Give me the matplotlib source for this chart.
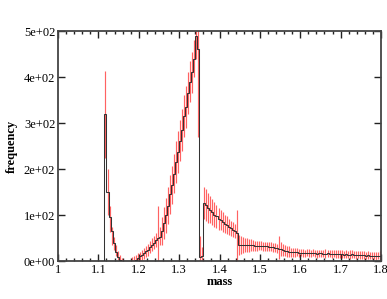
import numpy as np
import matplotlib
matplotlib.use("Agg")
import matplotlib.pyplot as plt
from matplotlib.ticker import MultipleLocator

# histogram bins: width 0.005, starting at 1.100
bin_start = 1.100
bin_width = 0.005

# black histogram (frequency per bin)
black_freq = [
    0, 0, 0, 320, 150, 96, 66, 40, 20, 8,            # 1.100 - 1.145
    3, 0, 0, 0, 0, 0, 0, 0, 2, 6,                    # 1.150 - 1.195
    10, 13, 17, 21, 25, 30, 35, 40, 45, 50,          # 1.200 - 1.245
    52, 65, 83, 100, 120, 145, 165, 190, 215, 237,   # 1.250 - 1.295
    262, 285, 315, 335, 365, 390, 410, 440, 490, 462,  # 1.300 - 1.345
    8, 10, 126, 122, 116, 112, 106, 101, 97, 92,     # 1.350 - 1.395
    89, 85, 81, 78, 74, 71, 68, 65, 62, 35,          # 1.400 - 1.445
    35, 35, 35, 34, 34, 34, 34, 33, 33, 33,          # 1.450 - 1.495
    33, 32, 32, 32, 31, 31, 30, 29, 28, 27,          # 1.500 - 1.545
    26, 24, 22, 21, 20, 19, 19, 19, 19, 18,          # 1.550 - 1.595
    18, 18, 17, 18, 17, 17, 18, 17, 16, 17,          # 1.600 - 1.645
    17, 16, 16, 17, 16, 15, 16, 16, 15, 15,          # 1.650 - 1.695
    15, 14, 15, 14, 14, 15, 14, 13, 14, 13,          # 1.700 - 1.745
    13, 13, 12, 13, 12, 12, 12, 11, 12, 11,          # 1.750 - 1.795
]

# red series: mean and error per bin (nan = no point)
nan = np.nan
red_mean = [
    nan, nan, nan, 318, 150, 92, 55, 38, 22, 12,
    6, 2, nan, nan, nan, nan, 2, 4, 6, 8,
    10, 13, 17, 21, 25, 30, 35, 40, 45, 60,
    55, 65, 83, 100, 120, 145, 165, 190, 215, 237,
    262, 285, 315, 335, 365, 390, 410, 440, 470, 390,
    25, 15, 126, 122, 116, 112, 106, 101, 97, 92,
    89, 85, 81, 78, 74, 71, 68, 65, 56, 35,
    35, 35, 35, 34, 34, 34, 34, 33, 33, 33,
    33, 32, 32, 32, 31, 31, 30, 29, 28, 30,
    26, 24, 22, 21, 20, 19, 19, 19, 19, 18,
    18, 18, 17, 18, 17, 17, 18, 17, 16, 17,
    17, 16, 16, 17, 16, 15, 16, 16, 15, 15,
    15, 14, 15, 14, 14, 15, 14, 13, 14, 13,
    13, 13, 12, 13, 12, 12, 12, 11, 12, 11,
]
red_err = [
    nan, nan, nan, 95, 50, 28, 20, 15, 12, 10,
    7, 4, nan, nan, nan, nan, 6, 7, 8, 9,
    10, 11, 12, 12, 13, 13, 14, 14, 15, 60,
    20, 30, 35, 38, 40, 42, 42, 43, 45, 45,
    45, 45, 45, 45, 45, 45, 45, 40, 30, 120,
    30, 15, 35, 35, 33, 30, 28, 27, 25, 24,
    22, 21, 20, 19, 18, 17, 16, 15, 55, 22,
    20, 18, 16, 15, 14, 13, 12, 11, 11, 10,
    10, 10, 10, 10, 10, 10, 10, 10, 10, 25,
    15, 12, 12, 12, 12, 10, 10, 10, 9, 9,
    8, 9, 8, 8, 9, 8, 8, 8, 9, 8,
    8, 8, 10, 8, 8, 8, 8, 9, 8, 8,
    8, 8, 8, 8, 9, 8, 8, 8, 8, 8,
    8, 8, 8, 8, 8, 8, 8, 8, 8, 10,
]

n = len(black_freq)
edges = bin_start + bin_width * np.arange(n + 1)
centers = edges[:-1] + bin_width / 2

plt.rcParams['font.family'] = ['Liberation Serif', 'DejaVu Serif']

fig = plt.figure(figsize=(3.87, 2.99), dpi=100)
ax = fig.add_axes([0.150, 0.127, 0.8345, 0.769])

# red error bars
rm = np.array(red_mean, dtype=float)
re = np.array(red_err, dtype=float)
ok = ~np.isnan(rm)
ax.vlines(centers[ok], np.clip(rm[ok] - re[ok], 0, None), rm[ok] + re[ok],
          colors='#ff2020', alpha=0.7, linewidth=0.85, zorder=2)

# black histogram on top
freq = np.array(black_freq, dtype=float)
ax.stairs(freq, edges, color='#333333', linewidth=0.75, zorder=3)

ax.set_xlim(1.0, 1.8)
ax.set_ylim(0, 500)
ax.xaxis.set_minor_locator(MultipleLocator(0.02))
ax.set_xticks(np.arange(1.0, 1.81, 0.1))
ax.set_xticklabels(['1', '1.1', '1.2', '1.3', '1.4', '1.5', '1.6', '1.7', '1.8'])
ax.set_yticks(np.arange(0, 501, 100))
ax.set_yticklabels(['0e+00', '1e+02', '2e+02', '3e+02', '4e+02', '5e+02'])
ax.tick_params(axis='both', which='major', direction='in', length=5, width=1,
               top=True, right=True, labelsize=9, pad=2, color='#222222')
ax.tick_params(axis='x', which='minor', direction='in', length=2.5, width=1,
               top=True, bottom=True, color='#222222')
for s in ax.spines.values():
    s.set_linewidth(1.3)
    s.set_color('#444444')

ax.set_xlabel('mass', fontsize=9, fontweight='bold', labelpad=0)
ax.set_ylabel('frequency', fontsize=9, fontweight='bold', labelpad=4)

fig.savefig('out.png', dpi=100)
